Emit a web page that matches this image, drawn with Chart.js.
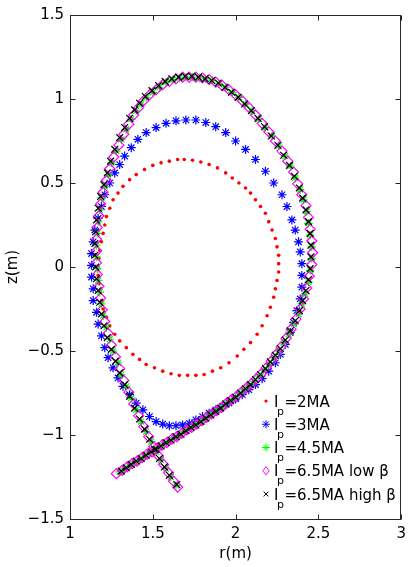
<!DOCTYPE html>
<html>
<head>
<meta charset="utf-8">
<script src="https://cdn.jsdelivr.net/npm/chart.js@4.4.0/dist/chart.umd.min.js"></script>
<style>
  html, body { margin: 0; padding: 0; background: #fff; }
  #plasma { display: block; }
</style>
</head>
<body>
<canvas id="plasma" width="412" height="567"></canvas>
<script>
// boundary points [r, z]
const ip2MA = [
  [1.69,0.64],[1.74,0.635],[1.79,0.625],[1.84,0.61],[1.89,0.59],[1.94,0.56],[1.98,0.53],[2.02,0.50],
  [2.06,0.47],[2.09,0.44],[2.12,0.40],[2.15,0.36],[2.18,0.32],[2.20,0.27],[2.22,0.22],[2.24,0.17],
  [2.25,0.12],[2.26,0.07],[2.26,0.02],[2.26,-0.03],[2.25,-0.08],[2.24,-0.13],[2.23,-0.18],[2.21,-0.24],
  [2.19,-0.29],[2.16,-0.35],[2.13,-0.40],[2.09,-0.45],[2.05,-0.49],[2.01,-0.53],[1.96,-0.57],[1.91,-0.60],
  [1.86,-0.62],[1.81,-0.64],[1.76,-0.645],[1.71,-0.645],[1.66,-0.645],[1.61,-0.635],[1.56,-0.62],[1.51,-0.60],
  [1.46,-0.58],[1.42,-0.55],[1.38,-0.52],[1.34,-0.48],[1.30,-0.44],[1.27,-0.40],[1.24,-0.35],[1.22,-0.30],
  [1.20,-0.25],[1.19,-0.20],[1.18,-0.15],[1.175,-0.10],[1.17,-0.05],[1.17,0.00],[1.175,0.05],[1.18,0.10],
  [1.19,0.15],[1.20,0.20],[1.21,0.25],[1.22,0.30],[1.24,0.35],[1.26,0.40],[1.29,0.44],[1.32,0.48],
  [1.36,0.52],[1.40,0.55],[1.45,0.58],[1.50,0.605],[1.55,0.62],[1.60,0.63],[1.65,0.64]
];

const ip3MA = [
  [1.60,-0.945],[1.64,-0.945],[1.68,-0.94],[1.72,-0.93],[1.76,-0.91],[1.80,-0.89],[1.84,-0.87],[1.88,-0.85],
  [1.92,-0.83],[1.96,-0.81],[2.00,-0.785],[2.04,-0.76],[2.08,-0.73],[2.12,-0.70],[2.16,-0.665],[2.20,-0.62],
  [2.24,-0.57],[2.27,-0.52],[2.30,-0.46],[2.33,-0.39],[2.35,-0.33],[2.37,-0.26],[2.39,-0.19],[2.40,-0.12],
  [2.40,-0.05],[2.40,0.02],[2.39,0.09],[2.38,0.15],[2.36,0.22],[2.34,0.28],[2.31,0.36],[2.28,0.43],
  [2.23,0.50],[2.18,0.57],[2.12,0.64],[2.06,0.70],[2.00,0.75],[1.94,0.80],[1.88,0.835],[1.82,0.86],
  [1.76,0.875],[1.70,0.875],[1.64,0.87],[1.58,0.855],[1.52,0.83],[1.46,0.80],[1.41,0.76],[1.37,0.71],
  [1.33,0.66],[1.30,0.61],[1.27,0.56],[1.24,0.50],[1.21,0.43],[1.19,0.36],[1.17,0.29],[1.15,0.22],
  [1.14,0.15],[1.13,0.08],[1.13,0.01],[1.13,-0.06],[1.14,-0.13],[1.14,-0.20],[1.16,-0.27],[1.17,-0.34],
  [1.19,-0.41],[1.21,-0.48],[1.23,-0.54],[1.26,-0.60],[1.29,-0.66],[1.32,-0.71],[1.36,-0.76],[1.40,-0.81],
  [1.44,-0.85],[1.48,-0.89],[1.52,-0.92],[1.56,-0.935]
];

const ip45MA = [
  [1.30,-1.22],[1.33,-1.20],[1.36,-1.18],[1.39,-1.16],[1.42,-1.145],[1.45,-1.125],[1.48,-1.105],[1.51,-1.09],
  [1.54,-1.07],[1.57,-1.05],[1.60,-1.035],[1.63,-1.015],[1.66,-1.0],[1.69,-0.98],[1.72,-0.96],[1.75,-0.945],
  [1.78,-0.925],[1.81,-0.905],[1.84,-0.885],[1.87,-0.865],[1.90,-0.845],[1.93,-0.825],[1.96,-0.80],[1.99,-0.78],
  [2.02,-0.755],[2.05,-0.73],[2.08,-0.705],[2.11,-0.68],[2.14,-0.65],[2.17,-0.615],[2.20,-0.58],[2.23,-0.54],
  [2.26,-0.50],[2.29,-0.45],[2.32,-0.40],[2.35,-0.34],[2.38,-0.28],[2.40,-0.22],[2.42,-0.16],[2.44,-0.09],
  [2.45,-0.02],[2.46,0.05],[2.46,0.12],[2.45,0.19],[2.44,0.26],[2.43,0.33],[2.41,0.40],[2.39,0.46],
  [2.36,0.53],[2.33,0.60],[2.30,0.66],[2.26,0.72],[2.22,0.78],[2.18,0.83],[2.14,0.88],[2.10,0.93],
  [2.06,0.97],[2.02,1.01],[1.98,1.04],[1.94,1.07],[1.90,1.09],[1.86,1.11],[1.82,1.12],[1.78,1.125],
  [1.74,1.13],[1.70,1.13],[1.66,1.125],[1.62,1.115],[1.58,1.10],[1.54,1.07],[1.50,1.04],[1.46,1.01],
  [1.43,0.97],[1.40,0.93],[1.37,0.88],[1.34,0.82],[1.31,0.76],[1.28,0.69],[1.25,0.62],[1.23,0.55],
  [1.21,0.48],[1.19,0.41],[1.18,0.34],[1.17,0.27],[1.165,0.20],[1.16,0.13],[1.16,0.06],[1.165,-0.01],
  [1.17,-0.08],[1.18,-0.15],[1.19,-0.22],[1.20,-0.29],[1.22,-0.36],[1.24,-0.43],[1.26,-0.50],[1.29,-0.57],
  [1.31,-0.64],[1.34,-0.71],[1.37,-0.78],[1.40,-0.85],[1.43,-0.92],[1.46,-0.98],[1.49,-1.04],[1.52,-1.10],
  [1.55,-1.15],[1.58,-1.20],[1.61,-1.25],[1.64,-1.30]
];

const ip65Low = [
  [1.28,-1.23],[1.315,-1.21],[1.345,-1.19],[1.375,-1.17],[1.405,-1.155],[1.435,-1.135],[1.465,-1.115],[1.495,-1.10],
  [1.525,-1.08],[1.555,-1.06],[1.585,-1.045],[1.615,-1.025],[1.645,-1.01],[1.675,-0.99],[1.705,-0.97],[1.735,-0.955],
  [1.765,-0.935],[1.795,-0.915],[1.825,-0.895],[1.855,-0.875],[1.885,-0.855],[1.915,-0.835],[1.945,-0.81],[1.975,-0.79],
  [2.005,-0.77],[2.035,-0.745],[2.065,-0.72],[2.095,-0.695],[2.125,-0.665],[2.155,-0.635],[2.185,-0.60],[2.215,-0.56],
  [2.245,-0.52],[2.275,-0.475],[2.305,-0.425],[2.335,-0.37],[2.365,-0.31],[2.39,-0.25],[2.41,-0.19],[2.43,-0.125],
  [2.445,-0.055],[2.46,0.015],[2.465,0.085],[2.46,0.155],[2.45,0.225],[2.44,0.295],[2.425,0.365],[2.40,0.43],
  [2.375,0.495],[2.35,0.565],[2.315,0.63],[2.28,0.69],[2.24,0.75],[2.20,0.805],[2.16,0.855],[2.12,0.905],
  [2.08,0.95],[2.04,0.99],[2.00,1.025],[1.96,1.055],[1.92,1.08],[1.88,1.10],[1.84,1.115],[1.80,1.125],
  [1.76,1.13],[1.72,1.13],[1.68,1.13],[1.64,1.12],[1.60,1.105],[1.56,1.085],[1.52,1.055],[1.48,1.025],
  [1.445,0.99],[1.415,0.95],[1.385,0.905],[1.355,0.85],[1.325,0.79],[1.295,0.725],[1.265,0.655],[1.24,0.585],
  [1.22,0.515],[1.20,0.445],[1.185,0.375],[1.175,0.305],[1.165,0.235],[1.16,0.165],[1.16,0.095],[1.16,0.025],
  [1.165,-0.045],[1.175,-0.115],[1.185,-0.185],[1.195,-0.255],[1.21,-0.325],[1.23,-0.395],[1.25,-0.465],[1.275,-0.535],
  [1.30,-0.605],[1.325,-0.675],[1.355,-0.745],[1.385,-0.815],[1.415,-0.885],[1.445,-0.95],[1.475,-1.01],[1.505,-1.07],
  [1.535,-1.125],[1.565,-1.175],[1.595,-1.225],[1.625,-1.275],[1.65,-1.31]
];

const ip65High = [
  [1.31,-1.215],[1.34,-1.195],[1.37,-1.175],[1.40,-1.155],[1.43,-1.14],[1.46,-1.12],[1.49,-1.10],[1.52,-1.085],
  [1.55,-1.065],[1.58,-1.045],[1.61,-1.03],[1.64,-1.01],[1.67,-0.995],[1.70,-0.975],[1.73,-0.955],[1.76,-0.94],
  [1.79,-0.92],[1.82,-0.90],[1.85,-0.88],[1.88,-0.86],[1.91,-0.84],[1.94,-0.815],[1.97,-0.795],[2.00,-0.775],
  [2.03,-0.75],[2.06,-0.725],[2.09,-0.70],[2.12,-0.67],[2.15,-0.64],[2.18,-0.605],[2.21,-0.565],[2.24,-0.525],
  [2.27,-0.485],[2.30,-0.435],[2.33,-0.38],[2.36,-0.32],[2.385,-0.26],[2.405,-0.20],[2.425,-0.14],[2.44,-0.075],
  [2.45,-0.01],[2.455,0.06],[2.455,0.13],[2.45,0.20],[2.44,0.27],[2.425,0.34],[2.405,0.41],[2.385,0.47],
  [2.355,0.54],[2.325,0.605],[2.29,0.665],[2.255,0.725],[2.215,0.78],[2.175,0.835],[2.135,0.885],[2.095,0.93],
  [2.055,0.97],[2.015,1.01],[1.975,1.04],[1.935,1.07],[1.895,1.095],[1.855,1.11],[1.815,1.12],[1.775,1.13],
  [1.735,1.135],[1.695,1.135],[1.655,1.13],[1.615,1.12],[1.575,1.105],[1.535,1.08],[1.495,1.05],[1.455,1.015],
  [1.42,0.975],[1.39,0.935],[1.36,0.885],[1.33,0.83],[1.30,0.77],[1.27,0.70],[1.245,0.63],[1.225,0.56],
  [1.205,0.49],[1.185,0.42],[1.17,0.35],[1.16,0.28],[1.155,0.21],[1.15,0.14],[1.15,0.07],[1.155,0.00],
  [1.16,-0.07],[1.17,-0.14],[1.18,-0.21],[1.19,-0.28],[1.205,-0.35],[1.225,-0.42],[1.25,-0.49],[1.275,-0.56],
  [1.30,-0.63],[1.33,-0.70],[1.36,-0.77],[1.39,-0.84],[1.42,-0.905],[1.45,-0.965],[1.48,-1.025],[1.51,-1.085],
  [1.54,-1.14],[1.57,-1.19],[1.60,-1.24],[1.645,-1.295]
];

const legendTexts = ["=2MA", "=3MA", "=4.5MA", "=6.5MA low \u03b2", "=6.5MA high \u03b2"];
const xTicks = [1, 1.5, 2, 2.5, 3];
const yTicks = [-1.5, -1, -0.5, 0, 0.5, 1, 1.5];

const toPoints = (arr) => arr.map((p) => ({ x: p[0], y: p[1] }));
const tickText = (v) => String(v).replace("-", "\u2212");

Chart.defaults.font.family = "'DejaVu Sans', sans-serif";
Chart.defaults.font.size = 15;
Chart.defaults.color = "#000";

function drawMarker(ctx, style, x, y, r, color) {
  ctx.save();
  ctx.strokeStyle = color;
  ctx.fillStyle = color;
  ctx.lineWidth = 1;
  ctx.beginPath();
  if (style === "circle") {
    ctx.arc(x, y, r, 0, Math.PI * 2);
    ctx.fill();
  } else if (style === "star") {
    for (let k = 0; k < 4; k++) {
      const a = (k * Math.PI) / 4;
      ctx.moveTo(x - Math.cos(a) * r, y - Math.sin(a) * r);
      ctx.lineTo(x + Math.cos(a) * r, y + Math.sin(a) * r);
    }
    ctx.stroke();
  } else if (style === "rectRot") {
    ctx.moveTo(x, y - r);
    ctx.lineTo(x + r * 0.8, y);
    ctx.lineTo(x, y + r);
    ctx.lineTo(x - r * 0.8, y);
    ctx.closePath();
    ctx.stroke();
  } else if (style === "crossRot") {
    const d = r * 0.6;
    ctx.moveTo(x - d, y - d);
    ctx.lineTo(x + d, y + d);
    ctx.moveTo(x - d, y + d);
    ctx.lineTo(x + d, y - d);
    ctx.stroke();
  }
  ctx.restore();
}

// matlab style box, inward ticks and legend
const boxAndLegend = {
  id: "boxAndLegend",
  afterDraw(chart) {
    const { ctx, chartArea: a, scales } = chart;
    const L = Math.round(a.left) + 0.5;
    const R = Math.round(a.right) - 0.5;
    const T = Math.round(a.top) + 0.5;
    const B = Math.round(a.bottom) + 0.5;
    const tl = 5;
    ctx.save();
    ctx.strokeStyle = "#262626";
    ctx.lineWidth = 1;
    ctx.strokeRect(L, T, R - L, B - T);
    ctx.beginPath();
    xTicks.forEach((v) => {
      const px = Math.round(scales.x.getPixelForValue(v)) + 0.5;
      ctx.moveTo(px, B); ctx.lineTo(px, B - tl);
      ctx.moveTo(px, T); ctx.lineTo(px, T + tl);
    });
    yTicks.forEach((v) => {
      const py = Math.round(scales.y.getPixelForValue(v)) + 0.5;
      ctx.moveTo(L, py); ctx.lineTo(L + tl, py);
      ctx.moveTo(R, py); ctx.lineTo(R - tl, py);
    });
    ctx.stroke();

    // legend rows
    const mainFont = "15px 'DejaVu Sans', sans-serif";
    const subFont = "11px 'DejaVu Sans', sans-serif";
    ctx.textBaseline = "alphabetic";
    ctx.textAlign = "left";
    chart.data.datasets.forEach((ds, i) => {
      const cy = 401 + i * 23.25;
      const base = cy + 5.5;
      drawMarker(ctx, ds.pointStyle, 266, cy, ds.pointStyle === "circle" ? 1.6 : 4, ds.borderColor);
      ctx.fillStyle = "#000";
      ctx.font = mainFont;
      ctx.fillText("I", 274, base);
      ctx.font = subFont;
      ctx.fillText("p", 277, base + 8);
      ctx.font = mainFont;
      ctx.fillText(legendTexts[i], 284.5, base);
    });
    ctx.restore();
  },
};

const ctx = document.getElementById("plasma");
new Chart(ctx, {
  type: "scatter",
  data: {
    datasets: [
      {
        label: "Ip=2MA",
        data: toPoints(ip2MA),
        pointStyle: "circle",
        pointRadius: 1.8,
        borderWidth: 0,
        backgroundColor: "#ff0000",
        borderColor: "#ff0000",
        order: 5,
      },
      {
        label: "Ip=3MA",
        data: toPoints(ip3MA),
        pointStyle: "star",
        pointRadius: 4.5,
        borderWidth: 1.2,
        backgroundColor: "rgba(0,0,0,0)",
        borderColor: "#0000ff",
        order: 4,
      },
      {
        label: "Ip=4.5MA",
        data: toPoints(ip45MA),
        pointStyle: "star",
        pointRadius: 4.2,
        borderWidth: 1.2,
        backgroundColor: "rgba(0,0,0,0)",
        borderColor: "#00ff00",
        order: 3,
      },
      {
        label: "Ip=6.5MA low beta",
        data: toPoints(ip65Low),
        pointStyle: "rectRot",
        pointRadius: 5,
        borderWidth: 1.2,
        backgroundColor: "rgba(0,0,0,0)",
        borderColor: "#ff00ff",
        order: 2,
      },
      {
        label: "Ip=6.5MA high beta",
        data: toPoints(ip65High),
        pointStyle: "crossRot",
        pointRadius: 4.8,
        borderWidth: 1.2,
        backgroundColor: "rgba(0,0,0,0)",
        borderColor: "#000000",
        order: 1,
      },
    ],
  },
  options: {
    responsive: false,
    animation: false,
    devicePixelRatio: 1,
    events: [],
    layout: { padding: { top: 11, right: 3, bottom: 0, left: 0 } },
    plugins: {
      legend: { display: false },
      tooltip: { enabled: false },
    },
    scales: {
      x: {
        type: "linear",
        min: 1,
        max: 3,
        grid: { display: false, drawTicks: false },
        border: { display: false },
        afterBuildTicks: (s) => { s.ticks = xTicks.map((v) => ({ value: v })); },
        afterFit: (s) => { s.height = 48; },
        ticks: { autoSkip: false, maxRotation: 0, padding: 6, callback: tickText },
        title: { display: true, text: "r(m)", padding: { top: 0, bottom: 4 } },
      },
      y: {
        type: "linear",
        min: -1.5,
        max: 1.5,
        grid: { display: false, drawTicks: false },
        border: { display: false },
        afterBuildTicks: (s) => { s.ticks = yTicks.map((v) => ({ value: v })); },
        afterFit: (s) => { s.width = 70; },
        ticks: { autoSkip: false, padding: 6, callback: tickText },
        title: { display: true, text: "z(m)", padding: { top: 4, bottom: 0 } },
      },
    },
  },
  plugins: [boxAndLegend],
});
</script>
</body>
</html>
